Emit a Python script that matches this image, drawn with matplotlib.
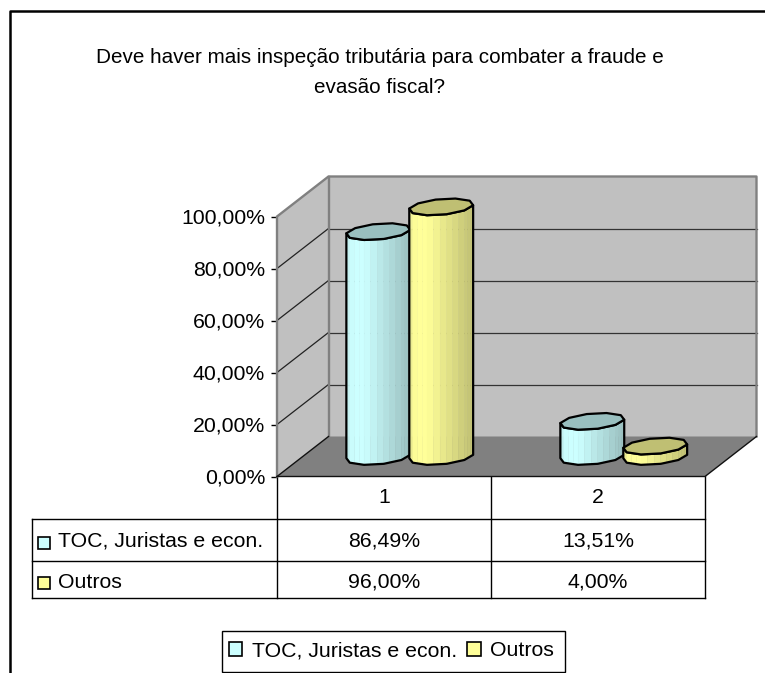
import numpy as np
import matplotlib
matplotlib.use("Agg")
import matplotlib.pyplot as plt
from matplotlib.patches import Polygon, Rectangle, Patch

plt.rcParams['font.family'] = ['Liberation Sans', 'DejaVu Sans']

title = "Deve haver mais inspeção tributária para combater a fraude e\nevasão fiscal?"
categories = ["1", "2"]
series_names = ["TOC, Juristas e econ.", "Outros"]
toc = [86.49, 13.51]
outros = [96.00, 4.00]
yticks = [0, 20, 40, 60, 80, 100]
series_values = [toc, outros]

W, H = 765, 673
CYAN = (0xCC/255, 1.0, 1.0)
YEL = (1.0, 1.0, 0x99/255)
colors = [CYAN, YEL]
FS = 15.3
FST = 14.9

fig = plt.figure(figsize=(W/100, H/100), dpi=100, facecolor='white')

def frac(x0, y0, x1, y1):
    return [x0/W, 1-y1/H, (x1-x0)/W, (y1-y0)/H]

ov = fig.add_axes([0, 0, 1, 1], zorder=0)
ov.set_xlim(0, W); ov.set_ylim(H, 0); ov.axis('off')

ax = fig.add_axes(frac(277, 216.5, 705, 476.5), zorder=1)
ax.patch.set_alpha(0)
ax.set_xlim(0, 2); ax.set_ylim(0, 100)
for s in ['top', 'right', 'bottom', 'left']:
    ax.spines[s].set_visible(False)
ax.set_yticks(yticks)
ax.set_yticklabels([f"{v:.2f}".replace('.', ',') + '%' for v in yticks], fontsize=FS)
ax.set_xticks([i + 0.5 for i in range(len(categories))])
ax.set_xticklabels(categories, fontsize=FS)
ax.tick_params(axis='x', length=0, pad=8)
ax.tick_params(axis='y', length=4.5, width=1, pad=4)

DX = 51.5 / 214
DY = 40.0 / 2.6

def P(x, y, z):
    return (x + z*DX, y + z*DY)

def add(poly, **kw):
    kw.setdefault('clip_on', False)
    ax.add_patch(Polygon(poly, closed=True, **kw))

WALL = '#C0C0C0'; EDGE = '#808080'
add([P(0, 0, 1), P(2, 0, 1), P(2, 100, 1), P(0, 100, 1)], fc=WALL, ec='none', zorder=1)
add([P(0, 0, 0), P(0, 0, 1), P(0, 100, 1), P(0, 100, 0)], fc=WALL, ec='none', zorder=1)
add([P(0, 0, 0), P(2, 0, 0), P(2, 0, 1), P(0, 0, 1)], fc='#808080', ec='none', zorder=2)
for v in yticks[1:-1]:
    ax.plot(*zip(P(0, v, 0), P(0, v, 1)), color='#222222', lw=0.9, zorder=1.5, clip_on=False)
    ax.plot(*zip(P(0, v, 1), P(2, v, 1)), color='#333333', lw=0.9, zorder=1.5, clip_on=False)
ax.plot(*zip(P(0, 0, 0), P(0, 100, 0), P(0, 100, 1), P(2, 100, 1), P(2, 0, 1)), color=EDGE, lw=1.7, zorder=1.6, clip_on=False)
ax.plot(*zip(P(0, 0, 1), P(0, 100, 1)), color=EDGE, lw=1.7, zorder=1.6, clip_on=False)
ax.plot(*zip(P(0, 0, 0), P(2, 0, 0), P(2, 0, 1)), color='#111111', lw=1.0, zorder=2.1, clip_on=False)
ax.plot(*zip(P(0, 0, 0), P(0, 0, 1)), color='#111111', lw=1.0, zorder=2.1, clip_on=False)

RX = 0.142; RZ = 0.21; OFF = 0.147
N = 10
angles = np.arange(N) * 2*np.pi/N + 0.2

def shade(c, f):
    if f < 0.12:
        k = 0.95 + 0.05*f/0.12
    elif f < 0.28:
        k = 1.0
    else:
        k = 1.0 - 0.25*((f-0.28)/0.72)
    return tuple(np.clip(np.array(c)*k, 0, 1))

def cylinder(xc, v, col, z):
    zc = 0.5
    pts = [(xc + RX*np.cos(t), zc + RZ*np.sin(t)) for t in angles]
    base = np.array([P(x, 0, d) for x, d in pts])
    top = np.array([P(x, v, d) for x, d in pts])
    il = int(np.argmin(base[:, 0])); ir = int(np.argmax(base[:, 0]))
    chain = []
    i = il
    while True:
        chain.append(i)
        if i == ir: break
        i = (i + 1) % N
    chain2 = []
    i = il
    while True:
        chain2.append(i)
        if i == ir: break
        i = (i - 1) % N
    if np.mean(base[chain2, 1]) < np.mean(base[chain, 1]):
        chain = chain2
    xl, xr = base[il, 0], base[ir, 0]
    for a, b in zip(chain[:-1], chain[1:]):
        for s0, s1 in zip(np.linspace(0, 1, 4)[:-1], np.linspace(0, 1, 4)[1:]):
            b0 = base[a] + (base[b]-base[a])*s0; b1 = base[a] + (base[b]-base[a])*s1
            t0 = top[a] + (top[b]-top[a])*s0; t1 = top[a] + (top[b]-top[a])*s1
            f = ((b0[0]+b1[0])/2 - xl) / (xr - xl)
            c = shade(col, f)
            add([b0, b1, t1, t0], fc=c, ec=c, lw=0.3, zorder=z)
    outline = [base[i] for i in chain] + [top[i] for i in reversed(chain)]
    add(outline, fc='none', ec='black', lw=1.6, zorder=z+0.1, joinstyle='round')
    cap = tuple(np.array(col)*0.75)
    add(top, fc=cap, ec='black', lw=1.6, zorder=z+0.2, joinstyle='round')

for i, cat in enumerate(categories):
    for j, vals in enumerate(series_values):
        xc = i + 0.5 + (j*2-1)*OFF
        cylinder(xc, vals[i], colors[j], 3 + j + i*2)

ov.plot([10.5, 10.5, W+2], [H+2, 10.5, 10.5], color='black', lw=1.8, clip_on=False)

lc = 'black'
xs = [32.5, 277, 491, 705]
ys = [476.5, 518.5, 561, 598]
for x in xs[1:]:
    ov.plot([x, x], [476, ys[-1]], color=lc, lw=1)
ov.plot([32.5, 32.5], [ys[1], ys[-1]], color=lc, lw=1)
for y in ys[1:]:
    ov.plot([32.5, 705], [y, y], color=lc, lw=1)
text_y = [541, 582]
swatch_y = [543, 583]
for j, (name, vals) in enumerate(zip(series_names, series_values)):
    ov.add_patch(Rectangle((38, swatch_y[j]-6), 12, 12, fc=colors[j], ec='black', lw=1.2))
    ov.text(58, text_y[j], name, fontsize=FS, va='center', ha='left')
    for i, v in enumerate(vals):
        ov.text((xs[i+1]+xs[i+2])/2, text_y[j], f"{v:.2f}".replace('.', ',') + '%', fontsize=FS, va='center', ha='center')

fig.text(380/W, 1-72.5/H, title, fontsize=FST, ha='center', va='center', linespacing=1.75)

ov.add_patch(Rectangle((222.5, 630.5), 343, 41.5, fc='white', ec='black', lw=1, clip_on=False))
handles = [Patch(fc=c, ec='black', lw=1.2) for c in colors]
leg = fig.legend(handles, series_names, loc='center', bbox_to_anchor=(391.5/W, 1-651/H), ncol=2,
                 fontsize=FS, frameon=False,
                 handlelength=0.62, handleheight=0.62, handletextpad=0.45, columnspacing=0.5,
                 borderpad=0, borderaxespad=0)

fig.savefig('out.png', dpi=100)
